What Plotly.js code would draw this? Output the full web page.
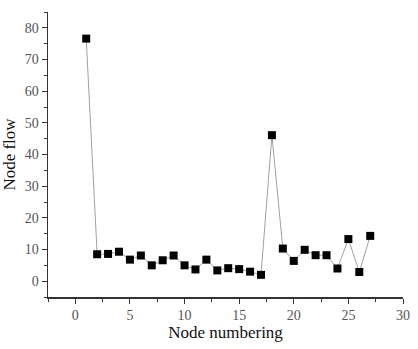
<!DOCTYPE html>
<html>
<head>
<meta charset="utf-8">
<script src="https://cdn.plot.ly/plotly-3.0.1.min.js"></script>
<style>
  html, body { margin: 0; padding: 0; background: #fff; }
  #plotArea { width: 418px; height: 349px; }
</style>
</head>
<body>
<div id="plotArea"></div>
<script>
// node index and flow
var nodeNumbers = [1, 2, 3, 4, 5, 6, 7, 8, 9, 10, 11, 12, 13, 14, 15, 16, 17, 18, 19, 20, 21, 22, 23, 24, 25, 26, 27];
var nodeFlow = [76.6, 8.5, 8.6, 9.3, 6.8, 8.1, 5.0, 6.6, 8.1, 5.0, 3.7, 6.8, 3.4, 4.1, 3.8, 3.0, 2.0,
                46.1, 10.3, 6.4, 9.9, 8.2, 8.2, 4.0, 13.3, 2.9, 14.3];

var xTicks = [0, 5, 10, 15, 20, 25, 30];
var yTicks = [0, 10, 20, 30, 40, 50, 60, 70, 80];

var trace = {
    x: nodeNumbers,
    y: nodeFlow,
    mode: 'lines+markers',
    type: 'scatter',
    line: {color: '#a0a0a0', width: 1},
    marker: {symbol: 'square', size: 8, color: '#000'},
    cliponaxis: false
};

var serif = '"Liberation Serif", "DejaVu Serif", serif';
var axisFont = {family: serif, size: 14, color: '#555'};
var titleFont = {family: serif, size: 17, color: '#111'};

var layout = {
    width: 418,
    height: 349,
    margin: {l: 48, r: 15, t: 12, b: 52},
    font: {family: serif, size: 14, color: '#555'},
    paper_bgcolor: '#fff',
    plot_bgcolor: '#fff',
    showlegend: false,
    xaxis: {
        range: [-2.5, 30],
        tickvals: xTicks,
        ticks: 'outside',
        ticklen: 5,
        tickwidth: 1,
        tickcolor: '#333',
        minor: {dtick: 2.5, tick0: 0, ticks: 'outside', ticklen: 3, tickcolor: '#333'},
        showgrid: false,
        zeroline: false,
        showline: true,
        linecolor: '#333',
        linewidth: 1.5,
        tickfont: axisFont,
        title: {text: 'Node numbering', font: titleFont, standoff: 2}
    },
    yaxis: {
        range: [-5, 85],
        tickvals: yTicks,
        ticks: 'outside',
        ticklen: 5,
        tickwidth: 1,
        tickcolor: '#333',
        minor: {dtick: 5, tick0: 0, ticks: 'outside', ticklen: 3, tickcolor: '#333'},
        showgrid: false,
        zeroline: false,
        showline: true,
        linecolor: '#333',
        linewidth: 1.5,
        tickfont: axisFont,
        title: {text: 'Node flow', font: titleFont, standoff: 8}
    }
};

Plotly.newPlot('plotArea', [trace], layout, {displayModeBar: false, staticPlot: true});
</script>
</body>
</html>
